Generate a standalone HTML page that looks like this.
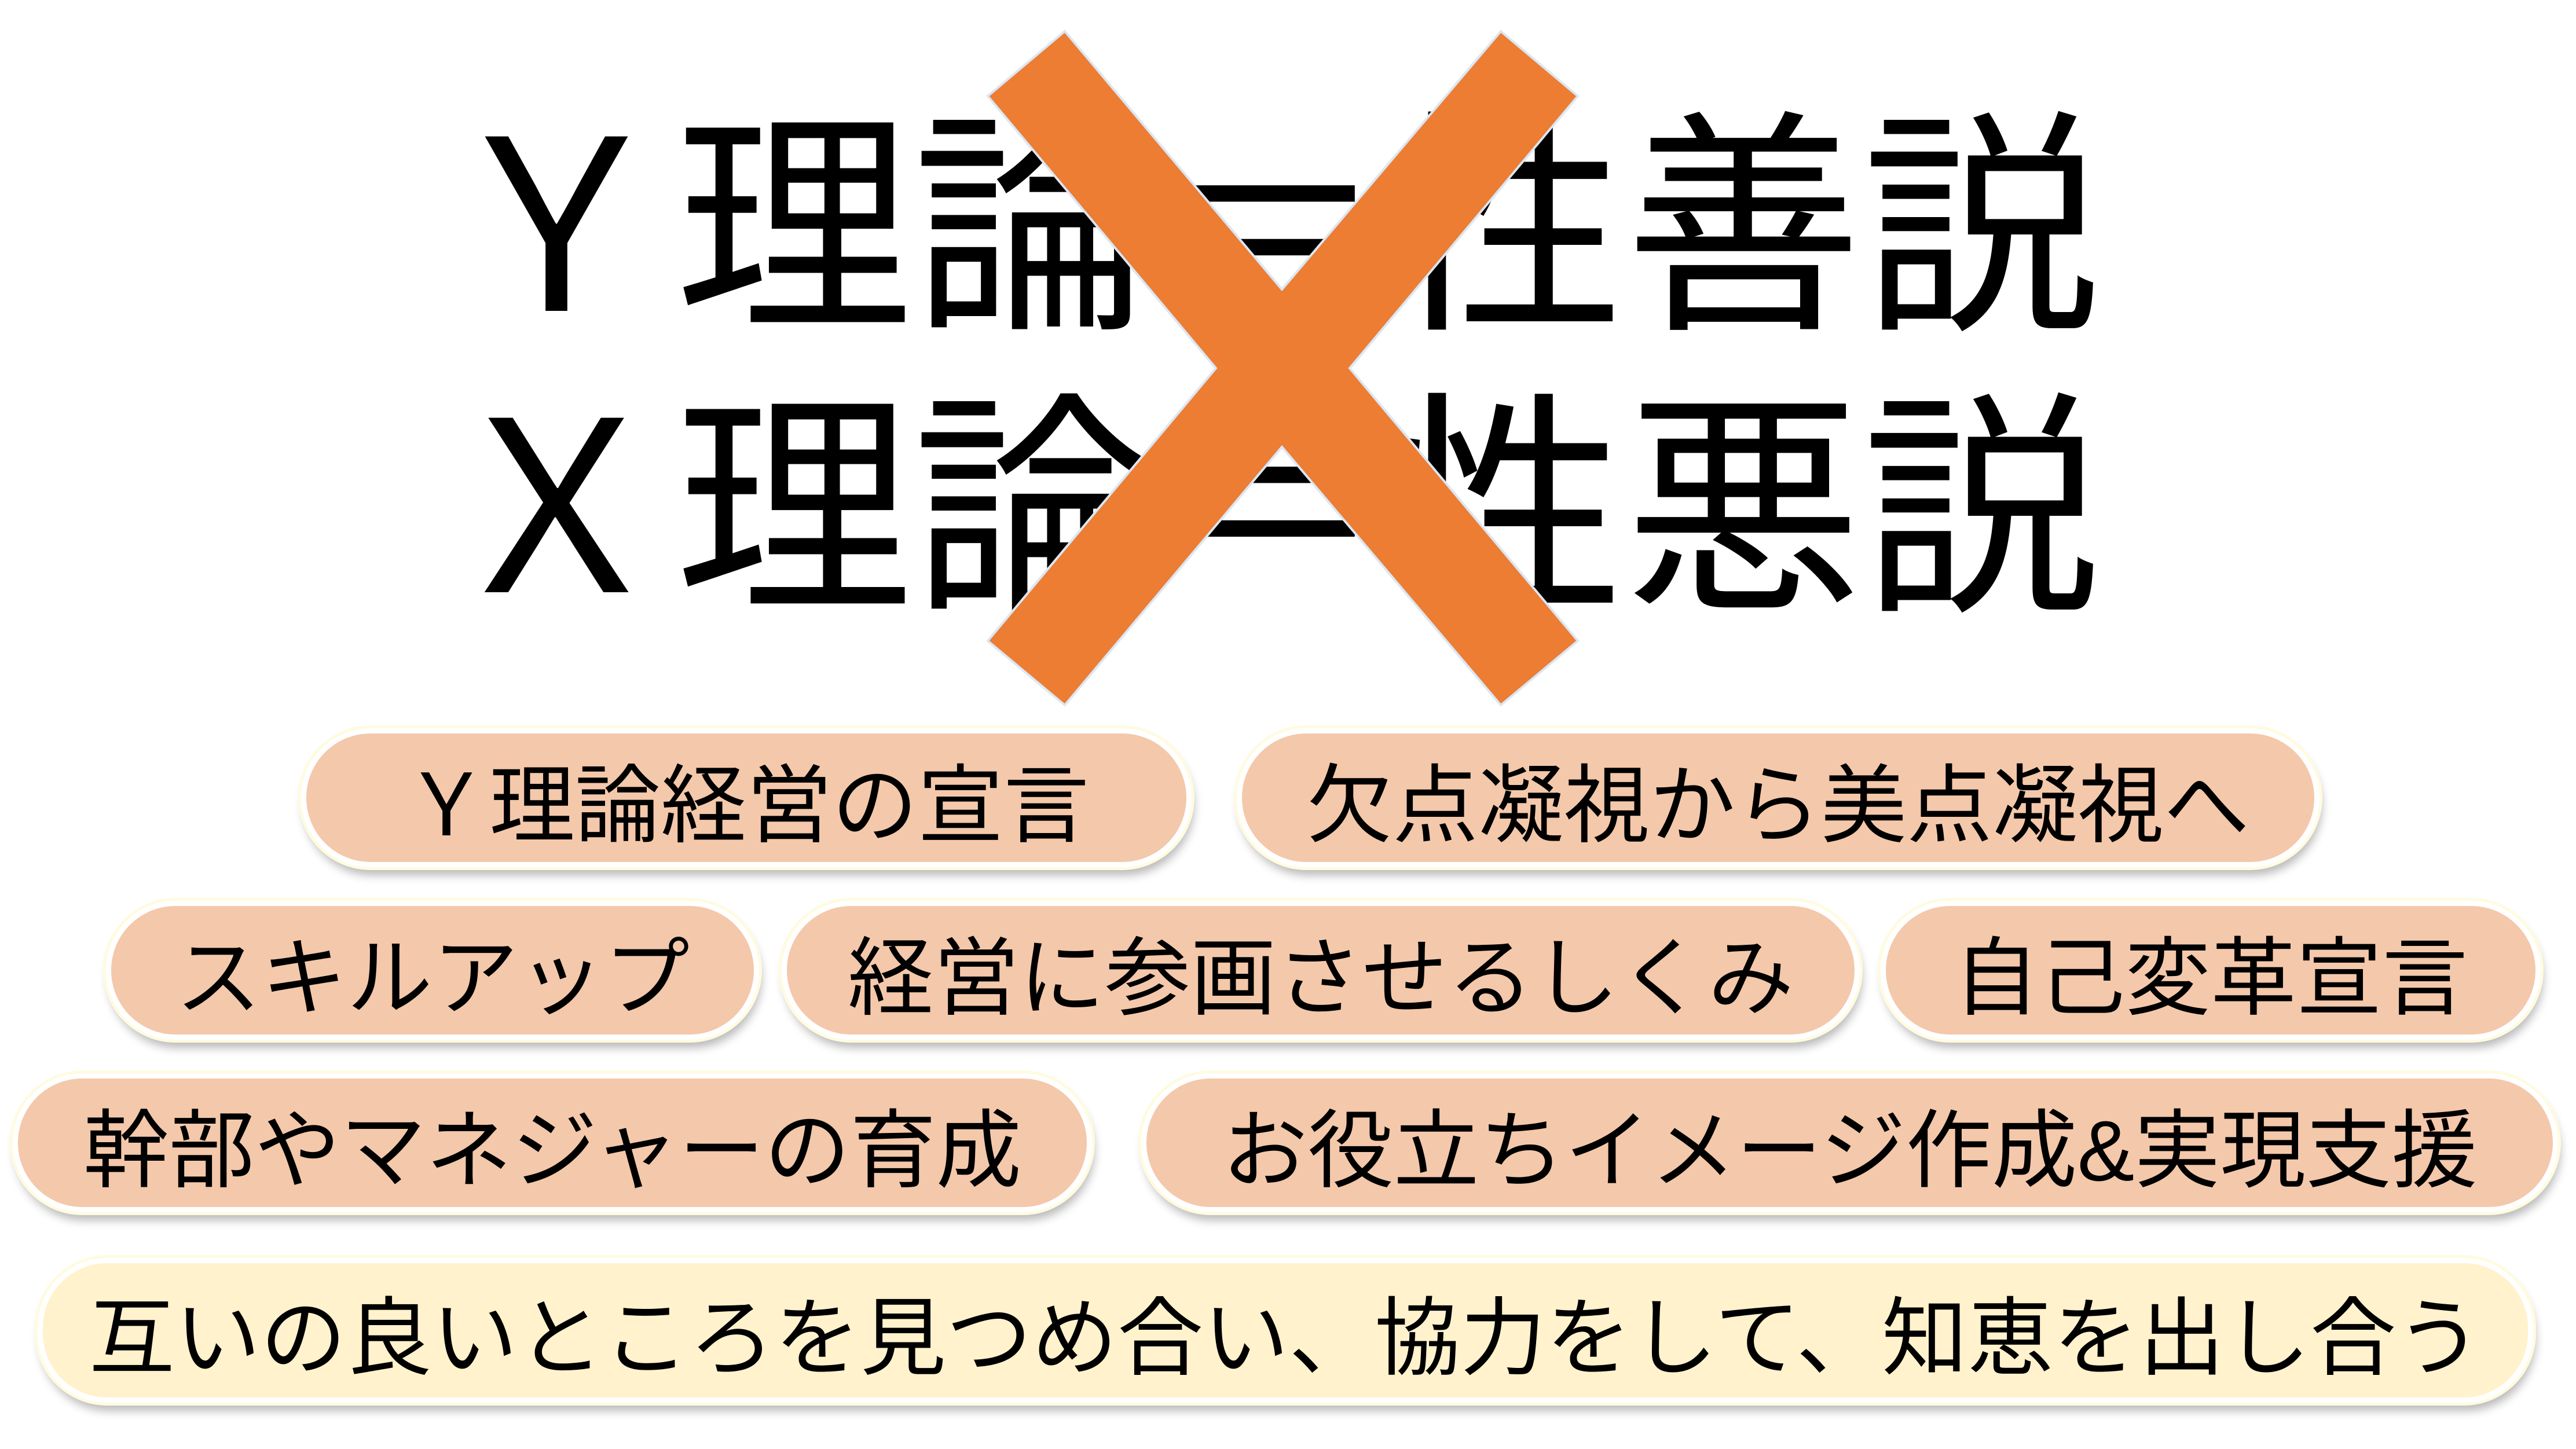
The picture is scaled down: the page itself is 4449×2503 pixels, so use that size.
<!DOCTYPE html>
<html><head><meta charset="utf-8"><style>
html,body{margin:0;padding:0;background:#fff;}
body{width:4449px;height:2503px;position:relative;overflow:hidden;font-family:"Liberation Sans","Noto Sans CJK JP",sans-serif;color:#000;}
.t{position:absolute;left:756px;font-size:410px;line-height:410px;white-space:nowrap;}
.p{position:absolute;box-sizing:border-box;border-radius:120px;background:#F4C8AA;border:9px solid #fff;
box-shadow:0 0 0 5px #FFFBE0,4px 14px 16px rgba(0,0,0,0.28);display:flex;align-items:center;justify-content:center;
font-size:148px;white-space:nowrap;}
</style></head><body>
<div class="t" style="top:190px">Ｙ理論＝性善説</div>
<div class="t" style="top:676px">Ｘ理論＝性悪説</div>
<svg style="position:absolute;left:0;top:0" width="4449" height="1300">
<polygon points="1839,54 2214,500 2592,54 2725,166 2331,636 2725,1107 2592,1218 2214,772 1839,1218 1706,1107 2100,636 1706,166" fill="#EC7D33" stroke="#DCE6F2" stroke-width="4"/>
</svg>
<div class="p" style="left:520px;top:1258px;width:1538px;height:240px">Ｙ理論経営の宣言</div>
<div class="p" style="left:2136px;top:1258px;width:1870px;height:240px">欠点凝視から美点凝視へ</div>
<div class="p" style="left:183px;top:1556px;width:1128px;height:240px">スキルアップ</div>
<div class="p" style="left:1350px;top:1556px;width:1862px;height:240px">経営に参画させるしくみ</div>
<div class="p" style="left:3248px;top:1556px;width:1140px;height:240px">自己変革宣言</div>
<div class="p" style="left:22px;top:1854px;width:1864px;height:240px">幹部やマネジャーの育成</div>
<div class="p" style="left:1971px;top:1854px;width:2447px;height:240px">お役立ちイメージ作成&amp;実現支援</div>
<div class="p" style="left:65px;top:2173px;width:4310px;height:250px;background:#FFF2CC">互いの良いところを見つめ合い、協力をして、知恵を出し合う</div>
</body></html>
